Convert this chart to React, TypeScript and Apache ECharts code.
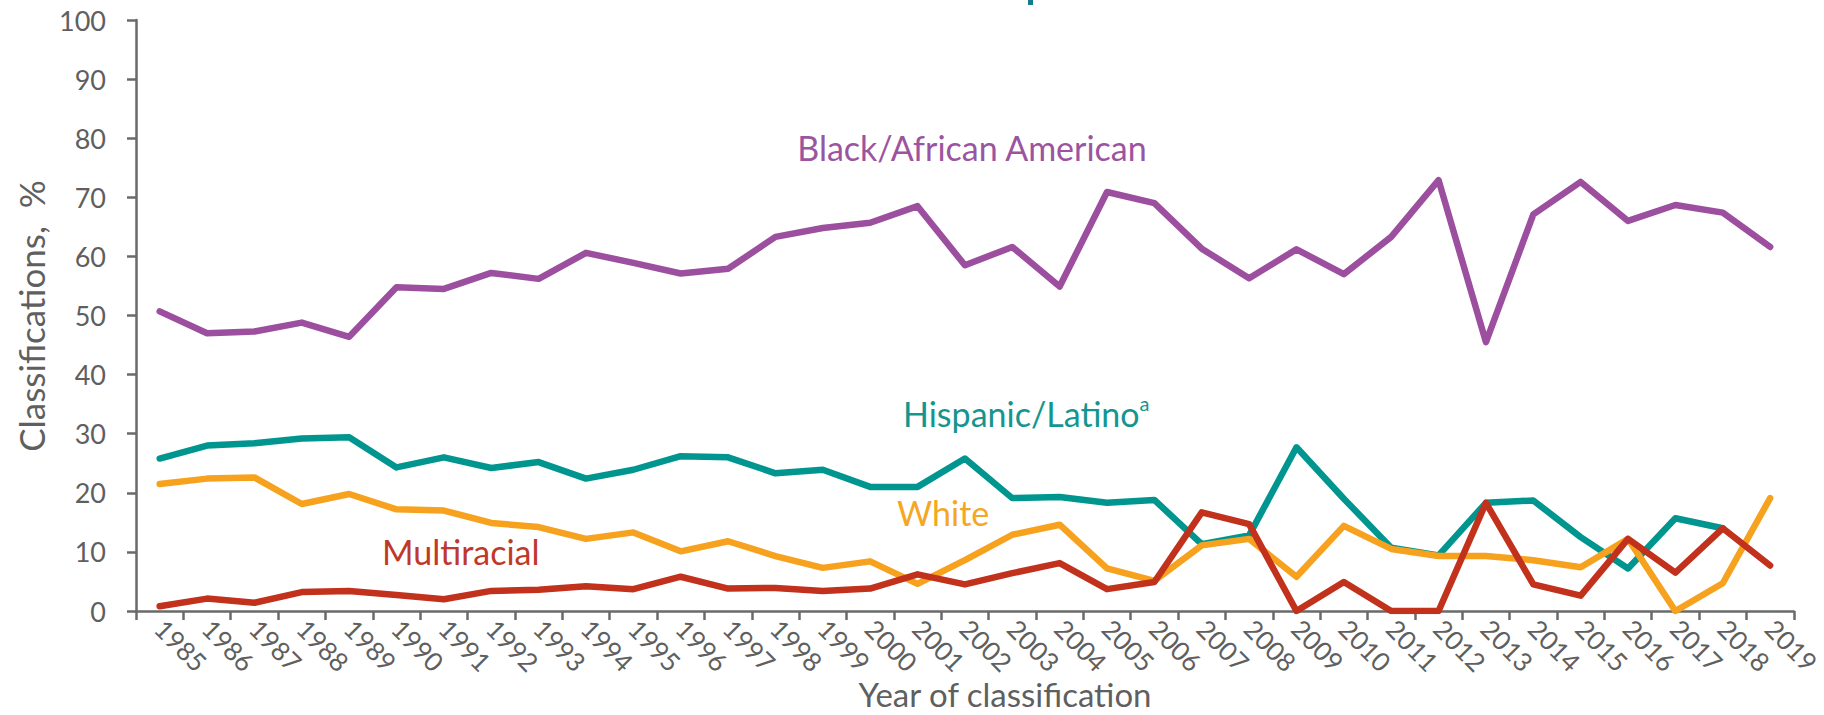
import React, { useEffect, useRef } from "react";
import * as echarts from "echarts";

const years = [
  "1985","1986","1987","1988","1989","1990","1991","1992","1993","1994",
  "1995","1996","1997","1998","1999","2000","2001","2002","2003","2004",
  "2005","2006","2007","2008","2009","2010","2011","2012","2013","2014",
  "2015","2016","2017","2018","2019",
];

const blackAfricanAmerican = [
  50.7, 47.0, 47.3, 48.8, 46.4, 54.8, 54.5, 57.2, 56.2, 60.6,
  58.9, 57.1, 57.9, 63.3, 64.8, 65.7, 68.5, 58.5, 61.6, 54.9,
  70.9, 69.0, 61.3, 56.3, 61.2, 57.0, 63.3, 72.9, 45.5, 67.1,
  72.6, 66.0, 68.7, 67.4, 61.6,
];

const hispanicLatino = [
  25.8, 28.0, 28.4, 29.2, 29.4, 24.3, 26.0, 24.2, 25.2, 22.4,
  23.9, 26.2, 26.0, 23.3, 23.9, 21.0, 21.0, 25.8, 19.1, 19.3,
  18.3, 18.8, 11.3, 12.8, 27.7, 19.0, 10.7, 9.4, 18.3, 18.7,
  12.5, 7.2, 15.7, 14.0, null,
];

const white = [
  21.5, 22.4, 22.6, 18.1, 19.8, 17.2, 17.0, 14.9, 14.2, 12.2,
  13.3, 10.1, 11.8, 9.3, 7.3, 8.4, 4.6, 8.6, 12.9, 14.6,
  7.2, 5.1, 11.1, 12.2, 5.8, 14.4, 10.5, 9.3, 9.3, 8.6,
  7.4, 12.2, 0, 4.7, 19.1,
];

const multiracial = [
  0.8, 2.1, 1.4, 3.2, 3.4, 2.7, 2.0, 3.4, 3.6, 4.2,
  3.7, 5.8, 3.8, 3.9, 3.4, 3.8, 6.2, 4.5, 6.4, 8.1,
  3.7, 4.9, 16.7, 14.7, 0, 4.9, 0, 0, 18.3, 4.5,
  2.6, 12.2, 6.5, 14.0, 7.7,
];

const FONT = "Lato, 'Noto Sans', sans-serif";
const AXIS = "#6a6a6a";
const TXT = "#5f5f5f";
const PURPLE = "#9c4f9f";
const TEAL = "#00968f";
const ORANGE = "#f7a21f";
const RED = "#c1311c";

export default function App() {
  const ref = useRef<HTMLDivElement>(null);

  useEffect(() => {
    if (!ref.current) return;
    const chart = echarts.init(ref.current, undefined, { renderer: "svg" });
    const line = (name: string, data: (number | null)[], color: string) => ({
      name,
      type: "line",
      data,
      showSymbol: false,
      symbol: "none",
      lineStyle: { color, width: 6.5, cap: "round", join: "round" },
      itemStyle: { color },
    });
    chart.setOption({
      animation: false,
      backgroundColor: "#ffffff",
      grid: { left: 136, right: 23, top: 20, bottom: 104, containLabel: false },
      xAxis: {
        type: "category",
        data: years,
        boundaryGap: true,
        axisLine: { show: true, lineStyle: { color: AXIS, width: 2.5 } },
        axisTick: { show: true, length: 9, lineStyle: { color: AXIS, width: 2.5 } },
        axisLabel: {
          interval: 0,
          rotate: -45,
          margin: 13,
          color: TXT,
          fontSize: 26,
          fontFamily: FONT,
        },
        splitLine: { show: false },
      },
      yAxis: {
        type: "value",
        min: 0,
        max: 100,
        interval: 10,
        axisLine: { show: true, lineStyle: { color: AXIS, width: 2.5 } },
        axisTick: { show: true, length: 9, lineStyle: { color: AXIS, width: 2.5 } },
        axisLabel: { margin: 30, color: TXT, fontSize: 27, fontFamily: FONT },
        splitLine: { show: false },
      },
      series: [
        line("Black/African American", blackAfricanAmerican, PURPLE),
        line("Hispanic/Latino", hispanicLatino, TEAL),
        line("White", white, ORANGE),
        line("Multiracial", multiracial, RED),
      ],
      graphic: [
        { type: "rect", shape: { x: 1028, y: 0, width: 5, height: 5 }, style: { fill: "#137d8e" } },
        {
          type: "text", x: 972, y: 147,
          style: { text: "Black/African American", fill: "#9b55a0", fontSize: 34, fontFamily: FONT, textAlign: "center", textVerticalAlign: "middle" },
        },
        {
          type: "text", x: 903, y: 413,
          style: {
            text: "{m|Hispanic/Latino}{s|a}",
            fill: "#15958f", fontFamily: FONT, textAlign: "left", textVerticalAlign: "middle",
            rich: {
              m: { fontSize: 34, fontFamily: FONT, fill: "#15958f", color: "#15958f", lineHeight: 40 },
              s: { fontSize: 20, fontFamily: FONT, fill: "#15958f", color: "#15958f", verticalAlign: "top", lineHeight: 40 },
            },
          },
        },
        {
          type: "text", x: 897, y: 512,
          style: { text: "White", fill: "#f5a623", fontSize: 34, fontFamily: FONT, textAlign: "left", textVerticalAlign: "middle" },
        },
        {
          type: "text", x: 382, y: 551,
          style: { text: "Multiracial", fill: "#c0382a", fontSize: 34, fontFamily: FONT, textAlign: "left", textVerticalAlign: "middle" },
        },
        {
          type: "text", x: 1005, y: 694,
          style: { text: "Year of classification", fill: TXT, fontSize: 33, fontFamily: FONT, textAlign: "center", textVerticalAlign: "middle" },
        },
        {
          type: "text", x: 31, y: 316, rotation: Math.PI / 2,
          style: { text: "Classifications,  %", fill: TXT, fontSize: 35, fontFamily: FONT, textAlign: "center", textVerticalAlign: "middle" },
        },
      ],
    });
    return () => chart.dispose();
  }, []);

  return (
    <div
      ref={ref}
      style={{ position: "fixed", left: 0, top: 0, width: 1824, height: 715, background: "#fff" }}
    />
  );
}
